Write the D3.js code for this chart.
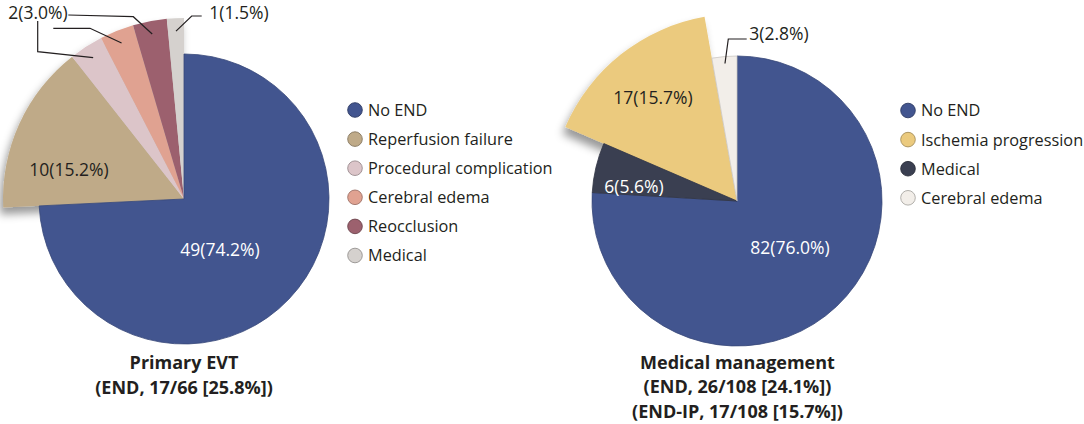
<!DOCTYPE html>
<html>
<head>
<meta charset="utf-8">
<script src="https://cdn.jsdelivr.net/npm/d3@7"></script>
<style>
  body { margin: 0; background: #fff; }
  text { font-family: "Open Sans", "Noto Sans", sans-serif; fill: #231f20; }
</style>
</head>
<body>
<div id="chart"></div>
<script>
var w = 1084;
var h = 424;

// Primary EVT (slice order, clockwise from 12 o'clock)
var evtCategories = ["No END", "Reperfusion failure", "Procedural complication", "Cerebral edema", "Reocclusion", "Medical"];
var evtValues = [49, 10, 2, 2, 2, 1];
var evtLabels = ["49(74.2%)", "10(15.2%)", "2(3.0%)", "2(3.0%)", "2(3.0%)", "1(1.5%)"];
var evtColors = ["#42558f", "#bfaa88", "#dcc5c9", "#e0a291", "#9c616e", "#d5d1ce"];
var evtTitle = ["Primary EVT", "(END, 17/66 [25.8%])"];

// Medical management (slice order, clockwise from 12 o'clock)
var medCategories = ["No END", "Medical", "Ischemia progression", "Cerebral edema"];
var medValues = [82, 6, 17, 3];
var medLabels = ["82(76.0%)", "6(5.6%)", "17(15.7%)", "3(2.8%)"];
var medColors = ["#42558f", "#3a3f51", "#ebca7e", "#f2eee9"];
var medLegend = ["No END", "Ischemia progression", "Medical", "Cerebral edema"];
var medTitle = ["Medical management", "(END, 26/108 [24.1%])", "(END-IP, 17/108 [15.7%])"];

// layout of each panel (label offsets are relative to the pie centre)
var evtLayout = {
    cx: 184, cy: 199, r: 145, rBig: 181, big: [1, 2, 3, 4, 5],
    legendX: 355, legendY: 110,
    labels: [
        {i: 0, x: 36, y: 51, fill: "#fff"},
        {i: 1, x: -115, y: -29},
        {i: 2, x: -146, y: -186},
        {i: 5, x: 55, y: -186}
    ],
    leaders: [
        {i: 2, r: 168, pts: [[-146.3, -178], [-146.3, -147.3]]},
        {i: 3, r: 168, pts: [[-130.7, -170.7], [-94, -170.7]]},
        {i: 4, r: 168, pts: [[-115.7, -184], [-50.7, -182.3]]},
        {i: 5, r: 168, pts: [[17.7, -183], [7.7, -183]]}
    ]
};

var medLayout = {
    cx: 737, cy: 201, r: 145, rBig: 187, big: [2],
    legendX: 908, legendY: 110.5,
    labels: [
        {i: 0, x: 53, y: 47, fill: "#fff"},
        {i: 1, x: -103, y: -14, fill: "#fff"},
        {i: 2, x: -84, y: -103},
        {i: 3, x: 42, y: -167.5}
    ],
    leaders: [
        {i: 3, r: 138, pts: [[9.7, -162], [-8.7, -162]]}
    ]
};

var legendStep = 29.1;

//Create SVG element
var svg = d3.select("#chart")
            .append("svg")
            .attr("width", w)
            .attr("height", h);

var filter = svg.append("defs")
    .append("filter")
    .attr("id", "shadow")
    .attr("x", "-30%").attr("y", "-30%")
    .attr("width", "160%").attr("height", "160%");
filter.append("feDropShadow")
    .attr("dx", -3)
    .attr("dy", 7)
    .attr("stdDeviation", 4.5)
    .attr("flood-color", "#000")
    .attr("flood-opacity", 0.4);

var pie = d3.pie().sort(null).value(function(d) { return d; });

function drawPie(values, colors, labels, layout) {
    var arcs = pie(values);
    var g = svg.append("g")
        .attr("transform", "translate(" + layout.cx + "," + layout.cy + ")");

    var arcSmall = d3.arc().innerRadius(0).outerRadius(layout.r);
    var arcBig = d3.arc().innerRadius(0).outerRadius(layout.rBig);

    //enlarged slices with drop shadow, drawn first
    g.append("g")
        .attr("filter", "url(#shadow)")
        .selectAll("path")
        .data(arcs.filter(function(d, i) { return layout.big.indexOf(i) >= 0; }))
        .enter()
        .append("path")
        .attr("d", arcBig)
        .attr("fill", function(d) { return colors[d.index]; });

    //normal slices
    g.append("g")
        .selectAll("path")
        .data(arcs.filter(function(d, i) { return layout.big.indexOf(i) < 0; }))
        .enter()
        .append("path")
        .attr("d", arcSmall)
        .attr("fill", function(d) { return colors[d.index]; })
        .attr("stroke", function(d) { return d3.color(colors[d.index]).darker(0.5); })
        .attr("stroke-width", 0.8);

    //leader lines
    var line = d3.line();
    g.selectAll(".leader")
        .data(layout.leaders)
        .enter()
        .append("path")
        .attr("class", "leader")
        .attr("fill", "none")
        .attr("stroke", "#231f20")
        .attr("stroke-width", 1.2)
        .attr("d", function(d) {
            var a = arcs[d.i];
            var end = d3.arc().innerRadius(d.r).outerRadius(d.r).centroid(a);
            return line(d.pts.concat([end]));
        });

    //slice labels
    g.selectAll(".label")
        .data(layout.labels)
        .enter()
        .append("text")
        .attr("class", "label")
        .attr("x", function(d) { return d.x; })
        .attr("y", function(d) { return d.y; })
        .attr("dy", "0.36em")
        .attr("text-anchor", "middle")
        .style("font-size", "17.5px")
        .style("fill", function(d) { return d.fill || "#231f20"; })
        .text(function(d) { return labels[d.i]; });
}

function drawLegend(names, nameColors, x, y) {
    var g = svg.append("g").attr("transform", "translate(" + x + "," + y + ")");
    var row = g.selectAll("g")
        .data(names)
        .enter()
        .append("g")
        .attr("transform", function(d, i) { return "translate(0," + (i * legendStep) + ")"; });
    row.append("circle")
        .attr("r", 7.3)
        .attr("fill", function(d) { return nameColors[d]; })
        .attr("stroke", function(d) { return d3.color(nameColors[d]).darker(1); })
        .attr("stroke-width", 0.9);
    row.append("text")
        .attr("x", 13)
        .attr("y", 5.9)
        .style("font-size", "16.3px")
        .text(function(d) { return d; });
}

function drawTitle(lines, x, y) {
    svg.append("g")
        .selectAll("text")
        .data(lines)
        .enter()
        .append("text")
        .attr("x", x)
        .attr("y", function(d, i) { return y + i * 24.5; })
        .attr("text-anchor", "middle")
        .style("font-size", "18px")
        .style("font-weight", "bold")
        .text(function(d) { return d; });
}

drawPie(evtValues, evtColors, evtLabels, evtLayout);
drawPie(medValues, medColors, medLabels, medLayout);

var evtColorOf = {};
evtCategories.forEach(function(c, i) { evtColorOf[c] = evtColors[i]; });
var medColorOf = {};
medCategories.forEach(function(c, i) { medColorOf[c] = medColors[i]; });

drawLegend(evtCategories, evtColorOf, evtLayout.legendX, evtLayout.legendY);
drawLegend(medLegend, medColorOf, medLayout.legendX, medLayout.legendY);

drawTitle(evtTitle, evtLayout.cx, 369);
drawTitle(medTitle, medLayout.cx + 0.5, 368.5);
</script>
</body>
</html>
